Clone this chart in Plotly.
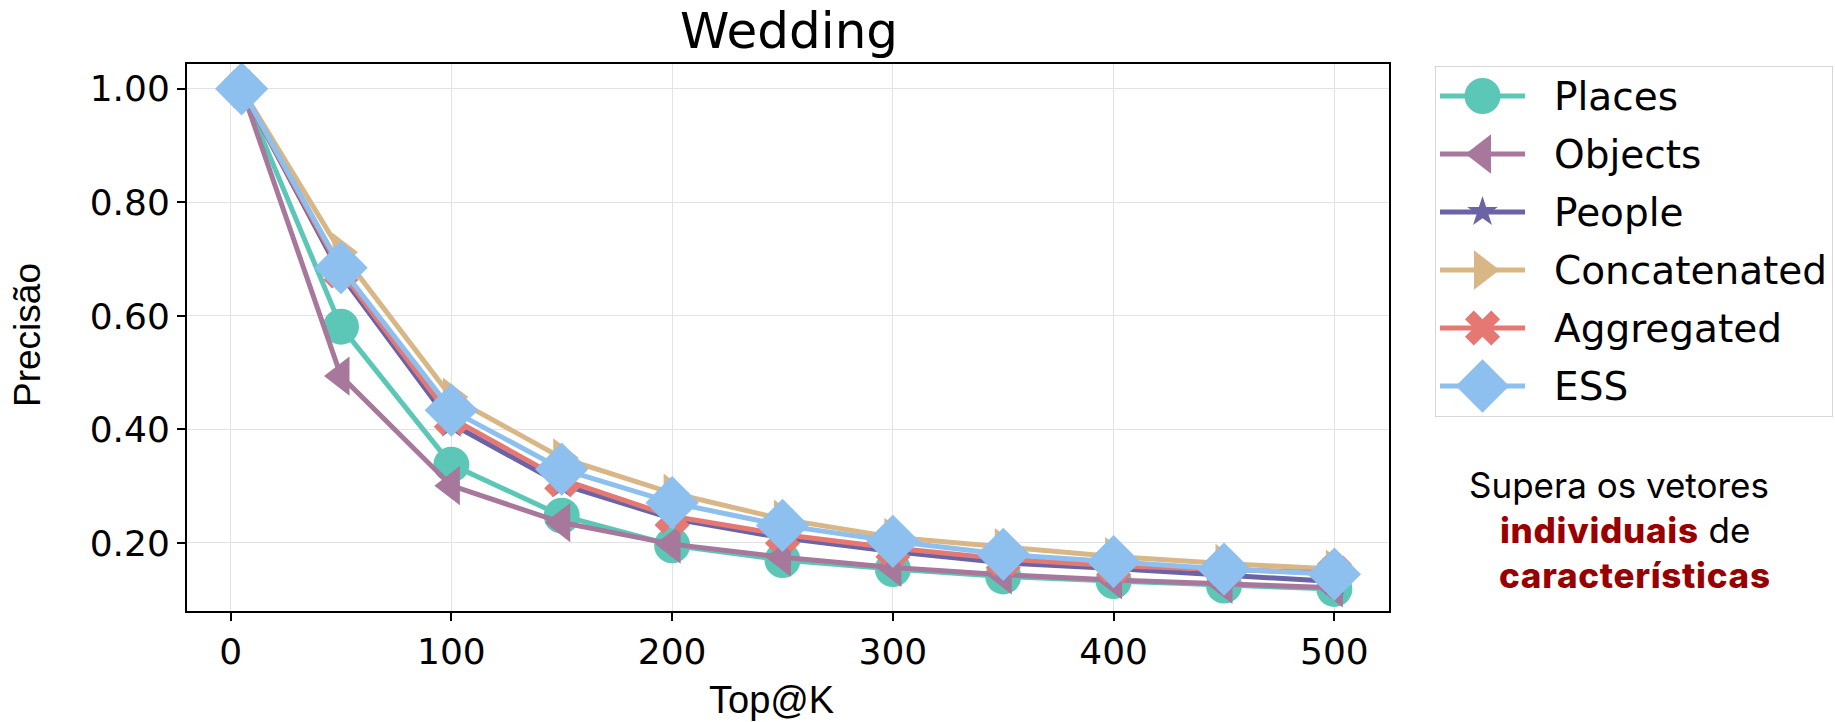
import plotly.graph_objects as go

# Precision at each cut-off K for the "Wedding" event
top_k = [5, 50, 100, 150, 200, 250, 300, 350, 400, 450, 500]

places = [1.0, 0.581, 0.338, 0.248, 0.196, 0.170, 0.154, 0.141, 0.133, 0.125, 0.119]
objects = [1.0, 0.494, 0.301, 0.236, 0.198, 0.175, 0.157, 0.144, 0.135, 0.127, 0.121]
people = [1.0, 0.672, 0.410, 0.303, 0.243, 0.209, 0.185, 0.165, 0.155, 0.143, 0.132]
concatenated = [1.0, 0.712, 0.457, 0.350, 0.288, 0.242, 0.210, 0.192, 0.176, 0.164, 0.154]
aggregated = [1.0, 0.679, 0.420, 0.312, 0.247, 0.215, 0.191, 0.172, 0.160, 0.153, 0.147]
ess = [1.0, 0.685, 0.434, 0.330, 0.271, 0.231, 0.203, 0.180, 0.167, 0.154, 0.145]

series_names = ["Places", "Objects", "People", "Concatenated", "Aggregated", "ESS"]
series_values = [places, objects, people, concatenated, aggregated, ess]

# styling per series: colour, marker symbol, marker size
styles = {
    "Places": ("#5DC7B7", "circle", 36),
    "Objects": ("#A7789B", "triangle-left", 34),
    "People": ("#6A64A6", "star", 23),
    "Concatenated": ("#D8B686", "triangle-right", 34),
    "Aggregated": ("#E57873", "x", 31),
    "ESS": ("#8DC0EF", "diamond", 41),
}
LINE_W = 5

W, H = 1835, 722
ML, MR, MT, MB = 187, 0, 64, 111
PW = W - ML - MR
PH = H - MT - MB
PLOT_RIGHT = 1389  # right edge of the main axes, px

tick_font = dict(family="DejaVu Sans", size=36, color="black")
legend_font = dict(family="DejaVu Sans", size=39, color="black")
label_font = dict(family="Liberation Sans, Arial", size=38, color="black")

fig = go.Figure()

for name, vals in zip(series_names, series_values):
    color, symbol, size = styles[name]
    fig.add_trace(go.Scatter(
        x=top_k, y=vals, name=name, mode="lines+markers",
        line=dict(color=color, width=LINE_W),
        marker=dict(color=color, symbol=symbol, size=size, opacity=1, line=dict(width=0)),
        cliponaxis=False, showlegend=False,
    ))

# hand-drawn legend on its own pixel-scaled axes
LEG_X0, LEG_X1, LEG_Y0, LEG_Y1 = 1435, 1833, 66, 417
ROW_TOP, ROW_GAP = 96, 58
LINE_X0, LINE_X1, TEXT_X = 1440, 1525, 1552

for i, name in enumerate(series_names):
    color, symbol, size = styles[name]
    row_y = ROW_TOP + i * ROW_GAP
    fig.add_trace(go.Scatter(
        x=[LINE_X0, (LINE_X0 + LINE_X1) / 2, LINE_X1], y=[row_y] * 3,
        xaxis="x2", yaxis="y2", mode="lines+markers",
        line=dict(color=color, width=LINE_W),
        marker=dict(color=color, symbol=symbol, size=[0, size, 0], opacity=1,
                    line=dict(width=0)),
        cliponaxis=False, showlegend=False, hoverinfo="skip",
    ))
    fig.add_annotation(
        x=TEXT_X, y=row_y, xref="x2", yref="y2", text=name,
        showarrow=False, xanchor="left", yanchor="middle",
        font=legend_font,
    )

fig.add_shape(
    type="rect", xref="x2", yref="y2",
    x0=LEG_X0, x1=LEG_X1, y0=LEG_Y0, y1=LEG_Y1,
    line=dict(color="#cccccc", width=1.5), fillcolor="white", layer="below",
)

def px_x(px):
    return (px - ML) / PW

def px_y(py):
    return (H - MB - py) / PH

# title and axis titles
fig.add_annotation(x=px_x(789), y=px_y(31), xref="paper", yref="paper",
                   text="Wedding", showarrow=False, xanchor="center", yanchor="middle",
                   font=dict(family="DejaVu Sans", size=50, color="black"))
fig.add_annotation(x=px_x(771), y=px_y(700), xref="paper", yref="paper",
                   text="Top@K", showarrow=False, xanchor="center", yanchor="middle",
                   font=label_font)
fig.add_annotation(x=px_x(27), y=px_y(335), xref="paper", yref="paper",
                   text="Precisão", showarrow=False, xanchor="center", yanchor="middle",
                   textangle=-90, font=dict(label_font, size=37))

# highlighted remark beside the chart
note_font = dict(family="Inter", size=35, color="black")
red = "#990000"
emph = f"color:{red};font-weight:800;letter-spacing:0.7px"
note_lines = [
    ("Supera os vetores", 1619, 485),
    (f"<span style='{emph}'>individuais</span> de", 1625, 530),
    (f"<span style='{emph}'>características</span>", 1635, 575),
]
for text, cx, cy in note_lines:
    fig.add_annotation(x=px_x(cx), y=px_y(cy), xref="paper", yref="paper",
                       text=text, showarrow=False, xanchor="center", yanchor="middle",
                       font=note_font)

axis_common = dict(
    showline=True, linecolor="black", linewidth=2, mirror=True,
    ticks="outside", ticklen=8, tickwidth=1.5, tickcolor="black",
    showgrid=True, gridcolor="#e3e3e3", gridwidth=1.3,
    zeroline=False, tickfont=tick_font,
)

fig.update_layout(
    width=W, height=H,
    margin=dict(l=ML, r=MR, t=MT, b=MB, pad=0),
    paper_bgcolor="white", plot_bgcolor="white",
    showlegend=False,
    xaxis=dict(domain=[0, (PLOT_RIGHT - ML) / PW], range=[-19.75, 524.75],
               tickvals=[0, 100, 200, 300, 400, 500], **axis_common),
    yaxis=dict(domain=[0, 1], range=[0.0802, 1.0437],
               tickvals=[0.2, 0.4, 0.6, 0.8, 1.0], tickformat=".2f", **axis_common),
    xaxis2=dict(domain=[px_x(LEG_X0), px_x(LEG_X1)], range=[LEG_X0, LEG_X1],
                visible=False, anchor="y2"),
    yaxis2=dict(domain=[px_y(LEG_Y1), px_y(LEG_Y0)], range=[LEG_Y1, LEG_Y0],
                visible=False, anchor="x2"),
)

fig.write_html("out.html")
